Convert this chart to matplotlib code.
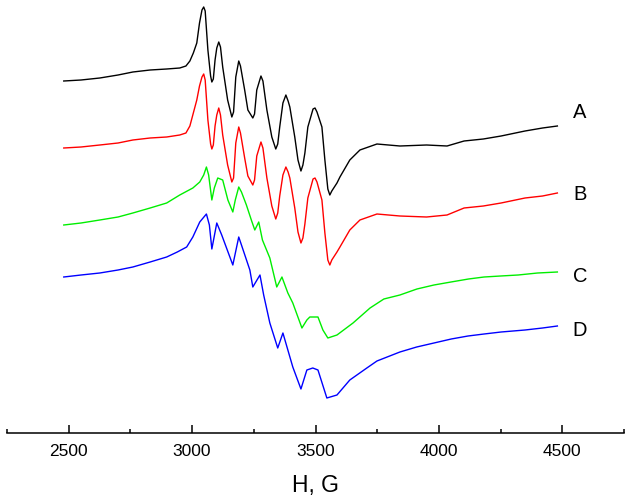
import numpy as np
import matplotlib.pyplot as plt

plt.rcParams['font.family'] = ['Liberation Sans', 'DejaVu Sans']

# field in gauss; intensity in arbitrary units, relative to each trace's start
field_ab = [2480, 2550, 2626, 2700, 2760, 2830, 2897, 2950, 2975, 2991,
            3005, 3019, 3030, 3040, 3047, 3053, 3064, 3075, 3080, 3086,
            3093, 3100, 3108, 3115, 3124, 3144, 3161, 3168, 3177, 3189,
            3196, 3213, 3226, 3246, 3253, 3262, 3279, 3287, 3303, 3323,
            3339, 3347, 3355, 3368, 3380, 3389, 3396, 3416, 3429, 3441,
            3449, 3457, 3469, 3490, 3498, 3506, 3526, 3538, 3550, 3558,
            3566, 3587, 3599, 3639, 3680, 3749, 3842, 3950, 4033, 4102,
            4180, 4252, 4349, 4420, 4480]
sig_a = [0, 1, 3, 6, 9, 11, 12, 13, 15, 20,
         28, 38, 58, 71, 74, 70, 31, 5, -1, 2,
         21, 33, 39, 34, 14, -19, -36, -31, 4, 20,
         15, -9, -29, -37, -33, -9, 5, 0, -29, -56,
         -68, -63, -46, -22, -14, -20, -26, -56, -79, -90,
         -84, -72, -46, -28, -27, -31, -46, -79, -108, -114,
         -110, -102, -96, -79, -69, -63, -65, -64, -65, -60,
         -58, -55, -50, -47, -45]
sig_b = [0, 1, 3, 5, 8, 10, 11, 13, 15, 22,
         35, 48, 62, 71, 74, 68, 28, 4, -1, 3,
         22, 33, 40, 33, 13, -17, -34, -30, 5, 21,
         15, -10, -28, -37, -32, -8, 6, 0, -30, -58,
         -71, -65, -48, -27, -19, -24, -30, -60, -84, -95,
         -90, -76, -50, -31, -30, -34, -52, -85, -112, -117,
         -112, -104, -99, -82, -72, -66, -68, -69, -67, -60,
         -58, -55, -50, -48, -45]

field_c = [2480, 2550, 2626, 2700, 2760, 2830, 2897, 2950, 3003, 3031,
           3047, 3058, 3067, 3080, 3090, 3104, 3124, 3145, 3165, 3175,
           3189, 3200, 3220, 3240, 3254, 3270, 3285, 3315, 3343, 3364,
           3388, 3408, 3445, 3465, 3477, 3510, 3530, 3550, 3587, 3652,
           3721, 3777, 3842, 3911, 3980, 4049, 4120, 4183, 4250, 4321,
           4400, 4480]
sig_c = [0, 2, 5, 8, 12, 17, 22, 30, 37, 43,
         50, 58, 50, 25, 37, 47, 45, 25, 13, 25,
         38, 33, 20, 5, -5, 3, -15, -33, -62, -52,
         -68, -78, -103, -95, -92, -92, -105, -113, -110, -98,
         -83, -74, -70, -64, -60, -57, -54, -52, -51, -50,
         -48, -47]

field_d = [2480, 2550, 2626, 2700, 2760, 2830, 2897, 2940, 2978, 3003,
           3031, 3058, 3070, 3080, 3100, 3120, 3165, 3189, 3200, 3234,
           3246, 3275, 3290, 3315, 3347, 3368, 3408, 3441, 3465, 3489,
           3510, 3546, 3587, 3639, 3708, 3749, 3842, 3910, 3980, 4050,
           4118, 4183, 4252, 4349, 4420, 4480]
sig_d = [0, 2, 4, 7, 10, 15, 20, 25, 30, 40,
         55, 63, 52, 28, 54, 42, 12, 40, 32, 7,
         -10, 2, -18, -46, -71, -56, -90, -112, -93, -91,
         -93, -121, -118, -103, -91, -84, -75, -70, -66, -62,
         -59, -57, -55, -53, -51, -49]

labels = ['A', 'B', 'C', 'D']
colors = ['black', 'red', '#00ee00', 'blue']
offsets = [352, 285, 208, 156]
label_y = [321, 238, 156, 102]

fig = plt.figure(figsize=(6.29, 5.03), dpi=100)
ax = fig.add_axes([7/629, 70/503, 617/629, 433/503])

traces = [(field_ab, sig_a), (field_ab, sig_b), (field_c, sig_c), (field_d, sig_d)]
for i, (f, s) in enumerate(traces):
    ax.plot(f, np.array(s) + offsets[i], color=colors[i], lw=1.0)
    ax.text(4572, label_y[i], labels[i], fontsize=14.5, ha='center', va='center')

ax.set_xlim(2250, 4750)
ax.set_ylim(0, 433)
ax.set_xticks([2500, 3000, 3500, 4000, 4500])
ax.set_xticks([2250, 2750, 3250, 3750, 4250, 4750], minor=True)
ax.tick_params(axis='x', which='major', direction='in', length=6, width=1.1, labelsize=12.5, pad=8)
ax.tick_params(axis='x', which='minor', direction='in', length=3, width=1.1)
ax.set_yticks([])
for side in ['left', 'right', 'top']:
    ax.spines[side].set_visible(False)
ax.spines['bottom'].set_linewidth(1.1)
ax.set_xlabel('H, G', fontsize=16.5, labelpad=11)

fig.savefig('out.png', dpi=100)
